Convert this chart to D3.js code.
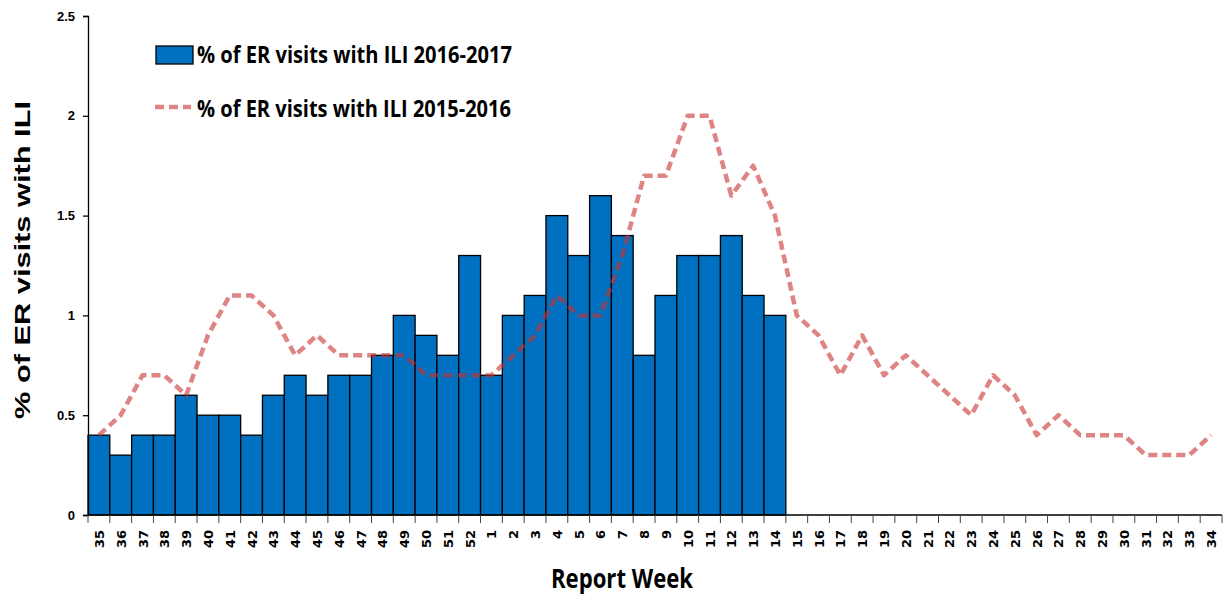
<!DOCTYPE html>
<html><head><meta charset="utf-8">
<script src="https://cdn.jsdelivr.net/npm/d3@7"></script>
<style>body{margin:0;background:#fff;} svg{display:block;}</style>
</head><body>
<svg id="chart" width="1224" height="596"></svg>
<script>
const weeks = ["35","36","37","38","39","40","41","42","43","44","45","46","47","48","49","50","51","52",
  "1","2","3","4","5","6","7","8","9","10","11","12","13","14","15","16","17","18","19","20","21","22",
  "23","24","25","26","27","28","29","30","31","32","33","34"];
const season2016_2017 = [0.4,0.3,0.4,0.4,0.6,0.5,0.5,0.4,0.6,0.7,0.6,0.7,0.7,0.8,1.0,0.9,0.8,1.3,
  0.7,1.0,1.1,1.5,1.3,1.6,1.4,0.8,1.1,1.3,1.3,1.4,1.1,1.0];
const season2015_2016 = [0.4,0.5,0.7,0.7,0.6,0.9,1.1,1.1,1.0,0.8,0.9,0.8,0.8,0.8,0.8,0.7,0.7,0.7,
  0.7,0.8,0.9,1.1,1.0,1.0,1.3,1.7,1.7,2.0,2.0,1.6,1.75,1.5,1.0,0.9,0.7,0.9,0.7,0.8,0.7,0.6,
  0.5,0.7,0.6,0.4,0.5,0.4,0.4,0.4,0.3,0.3,0.3,0.4];
const yTicks = [0,0.5,1,1.5,2,2.5];
const seriesNames = ["% of ER visits with ILI 2016-2017","% of ER visits with ILI 2015-2016"];

const svg = d3.select("#chart");
const mLeft = 88, mRight = 1222, mTop = 16, mBottom = 515;
const x = d3.scaleBand().domain(weeks).range([mLeft, mRight]).padding(0);
const y = d3.scaleLinear().domain([0, 2.5]).range([mBottom, mTop]);

// bars
svg.append("g").selectAll("rect").data(season2016_2017).join("rect")
  .attr("x", (d,i) => x(weeks[i]))
  .attr("y", d => y(d))
  .attr("width", x.bandwidth())
  .attr("height", d => y(0) - y(d))
  .attr("fill", "#0070C0")
  .attr("stroke", "#000")
  .attr("stroke-width", 1.3);

// line
const line = d3.line()
  .x((d,i) => x(weeks[i]) + x.bandwidth()/2)
  .y(d => y(d));
svg.append("path").datum(season2015_2016)
  .attr("d", line)
  .attr("fill", "none")
  .attr("stroke", "rgb(200,50,50)")
  .attr("stroke-opacity", 0.6)
  .attr("stroke-width", 4.5)
  .attr("stroke-dasharray", "9,5")
  .attr("stroke-linejoin", "round");

// y axis
const yAxis = svg.append("g").attr("transform", `translate(${mLeft},0)`)
  .call(d3.axisLeft(y).tickValues(yTicks).tickSize(5).tickPadding(8).tickFormat(d => d));
yAxis.select(".domain").attr("stroke", "#000").attr("stroke-width", 1.3);
yAxis.selectAll(".tick line").attr("stroke", "#000").attr("stroke-width", 1.3);
yAxis.selectAll("text").attr("font-family", "Liberation Sans, Arial, sans-serif")
  .attr("font-weight", "bold").attr("font-size", 13).attr("fill", "#000");

// x axis
const xg = svg.append("g").attr("transform", `translate(0,${mBottom})`);
xg.append("line").attr("x1", mLeft).attr("x2", mRight).attr("y1", 0).attr("y2", 0)
  .attr("stroke", "#000").attr("stroke-width", 1.5);
const edges = weeks.map(w => x(w)).concat([mRight]);
xg.selectAll("line.tk").data(edges).join("line").attr("class","tk")
  .attr("x1", d => d).attr("x2", d => d).attr("y1", 0).attr("y2", 8)
  .attr("stroke", "#444").attr("stroke-width", 1);
xg.selectAll("text").data(weeks).join("text")
  .attr("transform", d => `translate(${x(d) + x.bandwidth()/2 + 5},15) rotate(-90)`)
  .attr("text-anchor", "end")
  .attr("font-family", "DejaVu Sans, Verdana, sans-serif")
  .attr("font-weight", "bold").attr("font-size", 13).attr("fill", "#000")
  .text(d => d);

// axis titles
svg.append("text").attr("x", 622).attr("y", 588).attr("text-anchor", "middle")
  .attr("font-family", "Open Sans, sans-serif").attr("font-weight", "bold").attr("font-size", 26)
  .attr("textLength", 142).attr("lengthAdjust", "spacingAndGlyphs")
  .text("Report Week");
svg.append("text").attr("transform", "translate(30,260) rotate(-90)").attr("text-anchor", "middle")
  .attr("font-family", "Liberation Sans, Arial, sans-serif").attr("font-weight", "bold").attr("font-size", 22)
  .attr("textLength", 318).attr("lengthAdjust", "spacingAndGlyphs")
  .text("% of ER visits with ILI");

// legend
const lg = svg.append("g");
lg.append("rect").attr("x", 156).attr("y", 46).attr("width", 37).attr("height", 18)
  .attr("fill", "#0070C0").attr("stroke", "#000").attr("stroke-width", 1.3);
lg.append("text").attr("x", 197).attr("y", 63)
  .attr("font-family", "Open Sans, sans-serif").attr("font-weight", "bold").attr("font-size", 23)
  .attr("textLength", 315).attr("lengthAdjust", "spacingAndGlyphs")
  .text(seriesNames[0]);
lg.append("line").attr("x1", 155).attr("x2", 191).attr("y1", 107).attr("y2", 107)
  .attr("stroke", "rgb(200,50,50)").attr("stroke-opacity", 0.6).attr("stroke-width", 4.5)
  .attr("stroke-dasharray", "9,5");
lg.append("text").attr("x", 197).attr("y", 117)
  .attr("font-family", "Open Sans, sans-serif").attr("font-weight", "bold").attr("font-size", 23)
  .attr("textLength", 314).attr("lengthAdjust", "spacingAndGlyphs")
  .text(seriesNames[1]);
</script>
</body></html>
